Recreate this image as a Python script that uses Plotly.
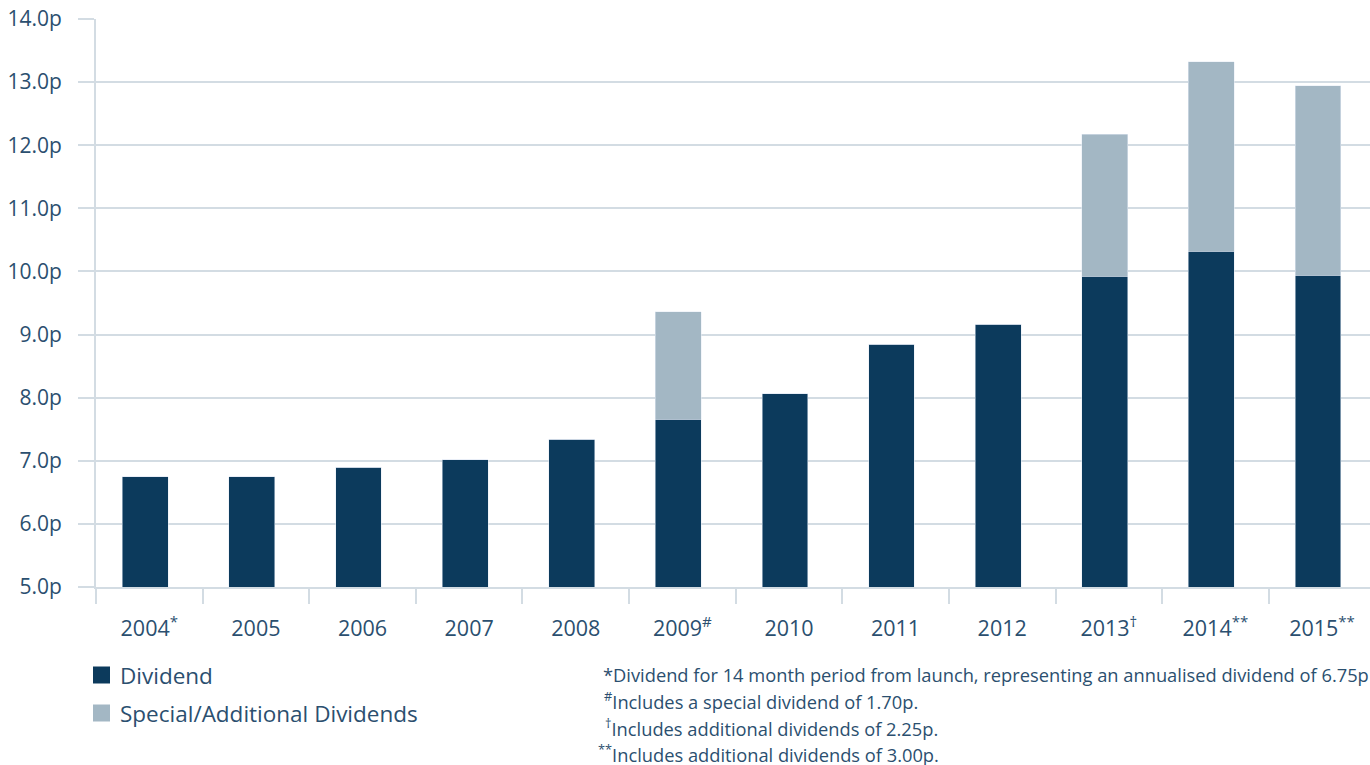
import plotly.graph_objects as go

# Annual dividend per share (pence)
years = ["2004", "2005", "2006", "2007", "2008", "2009",
         "2010", "2011", "2012", "2013", "2014", "2015"]
year_labels = ["2004<sup>*</sup>", "2005", "2006", "2007", "2008", "2009<sup>#</sup>",
               "2010", "2011", "2012", "2013<sup>†</sup>", "2014<sup>**</sup>", "2015<sup>**</sup>"]
dividend = [6.75, 6.75, 6.90, 7.02, 7.34, 7.66, 8.06, 8.85, 9.16, 9.92, 10.32, 9.94]
special = [0, 0, 0, 0, 0, 1.70, 0, 0, 0, 2.25, 3.00, 3.00]

footnotes = [
    "*Dividend for 14 month period from launch, representing an annualised dividend of 6.75p",
    "<sup>#</sup>Includes a special dividend of 1.70p.",
    "<sup>†</sup>Includes additional dividends of 2.25p.",
    "<sup>**</sup>Includes additional dividends of 3.00p.",
]

DARK = "#0c3a5c"
LIGHT = "#a3b7c4"
GRID = "#d3dce3"
TEXT = "#2b4f6f"
FONT = "Open Sans"

W, H = 1370, 765
ML, MR, MT, MB = 96, 0, 19, 178
PW, PH = W - ML - MR, H - MT - MB


def px(x):
    return (x - ML) / PW


def py(y):
    return (H - MB - y) / PH


fig = go.Figure()
fig.add_trace(go.Bar(x=years, y=dividend, name="Dividend", marker_color=DARK,
                     width=0.43, offset=-0.253, showlegend=False))
fig.add_trace(go.Bar(x=years, y=special, name="Special/Additional Dividends",
                     marker_color=LIGHT, width=0.43, offset=-0.253, showlegend=False))

fig.update_layout(
    barmode="stack",
    width=W, height=H,
    margin=dict(l=ML, r=MR, t=MT, b=MB),
    paper_bgcolor="white", plot_bgcolor="white",
    font=dict(family=FONT, color=TEXT, size=21),
    xaxis=dict(
        type="category", range=[-0.5, 11.45],
        tickmode="array", tickvals=years, ticktext=year_labels,
        tickson="boundaries", ticks="outside", ticklen=15, tickwidth=2, tickcolor=GRID,
        showline=True, linecolor=GRID, linewidth=2,
        showgrid=False, ticklabelstandoff=21,
        tickfont=dict(size=21.5, color=TEXT),
    ),
    yaxis=dict(
        range=[5, 14], dtick=1, tickformat=".1f", ticksuffix="p",
        showgrid=True, gridcolor=GRID, gridwidth=2,
        ticks="outside", ticklen=16, tickwidth=2, tickcolor=GRID,
        showline=True, linecolor=GRID, linewidth=2,
        zeroline=False, ticklabelstandoff=12,
        tickfont=dict(size=21, color=TEXT),
    ),
)

# Legend swatches and labels
legend_items = [("Dividend", DARK, 675), ("Special/Additional Dividends", LIGHT, 713)]
for label, color, cy in legend_items:
    fig.add_shape(type="rect", xref="paper", yref="paper",
                  x0=px(93), x1=px(110), y0=py(cy - 8.5), y1=py(cy + 8.5),
                  fillcolor=color, line=dict(width=0))
    fig.add_annotation(text=label, xref="paper", yref="paper",
                       x=px(118), y=py(cy), xanchor="left", yanchor="middle",
                       showarrow=False, font=dict(size=22.5, color=TEXT))

# Footnotes
note_x = [601, 602, 603, 596]
for i, note in enumerate(footnotes):
    fig.add_annotation(text=note, xref="paper", yref="paper",
                       x=px(note_x[i]), y=py(674 + i * 26.6), xanchor="left", yanchor="middle",
                       showarrow=False, font=dict(size=18.3, color=TEXT))

fig.write_html("out.html")
